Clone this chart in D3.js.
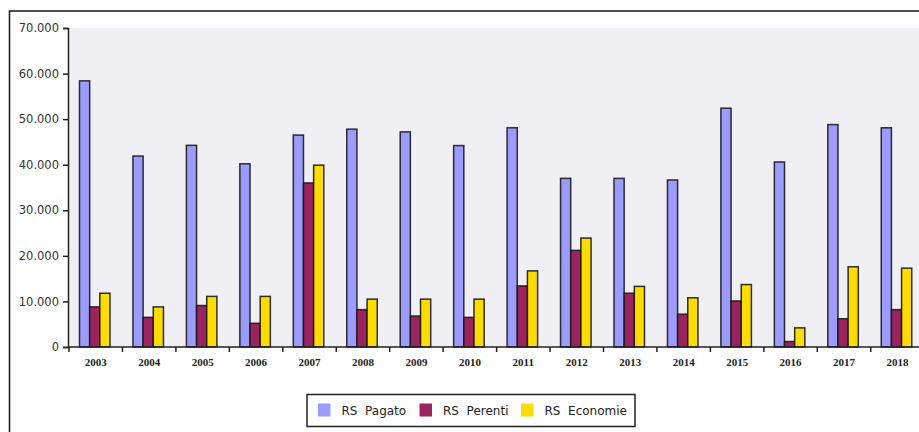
<!DOCTYPE html>
<html>
<head>
<meta charset="utf-8">
<script src="https://cdn.jsdelivr.net/npm/d3@7"></script>
<style>
  body { margin: 0; background: #fff; }
  svg { display: block; }
</style>
</head>
<body>
<div id="chart"></div>
<script>
// data
var years = ["2003", "2004", "2005", "2006", "2007", "2008", "2009", "2010",
             "2011", "2012", "2013", "2014", "2015", "2016", "2017", "2018"];
var series = ["RS  Pagato", "RS  Perenti", "RS  Economie"];
var pagato   = [58400, 41900, 44250, 40200, 46500, 47800, 47200, 44200,
                48100, 37000, 37000, 36650, 52400, 40600, 48800, 48100];
var perenti  = [8800, 6500, 9100, 5200, 36000, 8200, 6800, 6500,
                13400, 21200, 11800, 7200, 10100, 1200, 6200, 8200];
var economie = [11800, 8800, 11100, 11100, 39900, 10500, 10500, 10500,
                16700, 23900, 13300, 10800, 13700, 4200, 17600, 17300];
var yTicks = [0, 10000, 20000, 30000, 40000, 50000, 60000, 70000];

var colors = ["#9c9cff", "#9b2360", "#ffdc00"];

var width = 919, height = 432;
var margin = {top: 28, left: 68, bottom: 347};
var bandW = 53.45;

var svg = d3.select("#chart").append("svg")
    .attr("width", width)
    .attr("height", height);

// outer frame
svg.append("rect")
    .attr("x", 9.5).attr("y", 11)
    .attr("width", 930).attr("height", 440)
    .attr("fill", "#fff")
    .attr("stroke", "#222")
    .attr("stroke-width", 1.6);

var x = d3.scaleBand()
    .domain(years)
    .range([margin.left + 1, margin.left + 1 + bandW * years.length]);

var xInner = d3.scaleBand()
    .domain(series)
    .range([10.5, 41]);

var y = d3.scaleLinear()
    .domain([0, 70000])
    .range([margin.bottom, margin.top]);

// plot background
svg.append("rect")
    .attr("x", margin.left).attr("y", margin.top)
    .attr("width", width - margin.left).attr("height", margin.bottom - margin.top)
    .attr("fill", "#efeff4");

var rows = years.map(function(yr, i) {
    return {year: yr, values: [pagato[i], perenti[i], economie[i]]};
});

var groups = svg.selectAll(".group")
    .data(rows)
    .enter().append("g")
    .attr("class", "group")
    .attr("transform", function(d) { return "translate(" + x(d.year) + ",0)"; });

groups.selectAll("rect")
    .data(function(d) { return d.values; })
    .enter().append("rect")
    .attr("x", function(d, i) { return xInner(series[i]); })
    .attr("y", function(d) { return y(d); })
    .attr("width", xInner.bandwidth())
    .attr("height", function(d) { return margin.bottom - y(d); })
    .attr("fill", function(d, i) { return colors[i]; })
    .attr("stroke", "#1a1a1a")
    .attr("stroke-opacity", 0.9)
    .attr("stroke-width", 1.5);

// italian number format
var it = d3.formatLocale({decimal: ",", thousands: ".", grouping: [3], currency: ["€", ""]});

var yAxis = svg.append("g")
    .attr("transform", "translate(" + margin.left + ",0)")
    .call(d3.axisLeft(y).tickValues(yTicks).tickFormat(it.format(",")).tickSize(5).tickPadding(4));
yAxis.select(".domain").attr("stroke", "#222").attr("stroke-width", 1.5);
yAxis.selectAll(".tick line").attr("stroke", "#222").attr("stroke-width", 1.5);
yAxis.selectAll("text")
    .attr("fill", "#333")
    .style("font-family", "DejaVu Sans")
    .style("font-size", "11.5px");

// x axis: line plus ticks at band boundaries
var xg = svg.append("g");
xg.append("line")
    .attr("x1", margin.left).attr("x2", width)
    .attr("y1", margin.bottom).attr("y2", margin.bottom)
    .attr("stroke", "#222").attr("stroke-width", 1.5);
xg.selectAll(".sep")
    .data(years)
    .enter().append("line")
    .attr("x1", function(d) { return x(d); })
    .attr("x2", function(d) { return x(d); })
    .attr("y1", margin.bottom).attr("y2", margin.bottom + 5)
    .attr("stroke", "#222").attr("stroke-width", 1.5);
xg.selectAll(".lbl")
    .data(years)
    .enter().append("text")
    .attr("x", function(d) { return x(d) + x.bandwidth() / 2; })
    .attr("y", 366)
    .attr("text-anchor", "middle")
    .attr("fill", "#222")
    .style("font-family", "Liberation Serif")
    .style("font-weight", "bold")
    .style("font-size", "11px")
    .text(function(d) { return d; });

// legend
var legend = svg.append("g");
legend.append("rect")
    .attr("x", 307).attr("y", 394.5)
    .attr("width", 328).attr("height", 32)
    .attr("fill", "#fff")
    .attr("stroke", "#222").attr("stroke-width", 1.5);

var legX = [318, 419.5, 521];
series.forEach(function(s, i) {
    legend.append("rect")
        .attr("x", legX[i]).attr("y", 403.5)
        .attr("width", 12.5).attr("height", 13)
        .attr("fill", colors[i]);
    legend.append("text")
        .attr("x", legX[i] + 23.5).attr("y", 414.5)
        .attr("fill", "#222")
        .style("font-family", "DejaVu Sans")
        .style("font-size", "12px")
        .style("white-space", "pre")
        .attr("xml:space", "preserve")
        .text(s);
});
</script>
</body>
</html>
